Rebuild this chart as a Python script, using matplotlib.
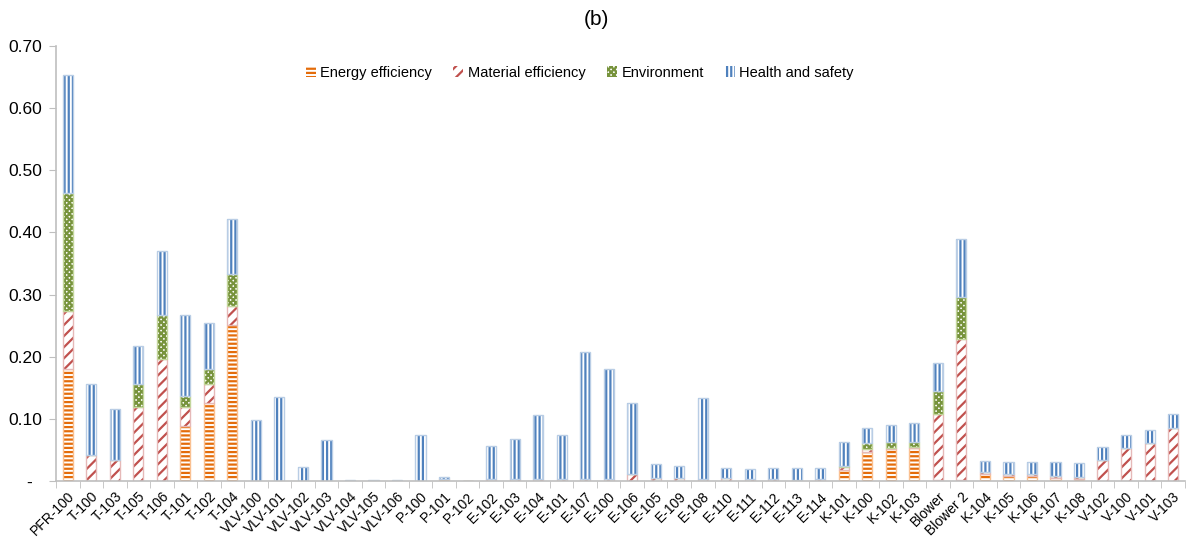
import matplotlib
matplotlib.use("Agg")
import matplotlib.pyplot as plt
import numpy as np

plt.rcParams['font.family'] = ['Liberation Sans', 'DejaVu Sans']
plt.rcParams['hatch.linewidth'] = 1.6

categories = ["PFR-100", "T-100", "T-103", "T-105", "T-106", "T-101", "T-102", "T-104",
              "VLV-100", "VLV-101", "VLV-102", "VLV-103", "VLV-104", "VLV-105", "VLV-106",
              "P-100", "P-101", "P-102",
              "E-102", "E-103", "E-104", "E-101", "E-107", "E-100", "E-106", "E-105", "E-109",
              "E-108", "E-110", "E-111", "E-112", "E-113", "E-114",
              "K-101", "K-100", "K-102", "K-103", "Blower", "Blower 2",
              "K-104", "K-105", "K-106", "K-107", "K-108",
              "V-102", "V-100", "V-101", "V-103"]

energy = [0.180, 0.000, 0.000, 0.000, 0.000, 0.089, 0.125, 0.251,
          0.000, 0.000, 0.000, 0.000, 0.000, 0.000, 0.000,
          0.000, 0.004, 0.000,
          0.000, 0.000, 0.000, 0.000, 0.000, 0.000, 0.000, 0.000, 0.000,
          0.000, 0.000, 0.000, 0.000, 0.000, 0.000,
          0.018, 0.047, 0.052, 0.053, 0.002, 0.002,
          0.011, 0.008, 0.008, 0.005, 0.004,
          0.000, 0.000, 0.000, 0.000]

material = [0.094, 0.042, 0.034, 0.119, 0.196, 0.031, 0.031, 0.030,
            0.000, 0.000, 0.000, 0.000, 0.000, 0.000, 0.000,
            0.000, 0.000, 0.000,
            0.003, 0.003, 0.003, 0.003, 0.003, 0.003, 0.012, 0.005, 0.005,
            0.003, 0.005, 0.003, 0.003, 0.002, 0.004,
            0.004, 0.004, 0.002, 0.002, 0.106, 0.226,
            0.003, 0.003, 0.003, 0.003, 0.002,
            0.034, 0.054, 0.061, 0.085]

environment = [0.190, 0.000, 0.000, 0.037, 0.072, 0.017, 0.024, 0.052,
               0.000, 0.000, 0.000, 0.000, 0.000, 0.000, 0.000,
               0.000, 0.000, 0.000,
               0.000, 0.000, 0.000, 0.000, 0.000, 0.000, 0.000, 0.000, 0.000,
               0.000, 0.000, 0.000, 0.000, 0.000, 0.000,
               0.002, 0.010, 0.009, 0.008, 0.037, 0.068,
               0.000, 0.000, 0.000, 0.000, 0.000,
               0.000, 0.000, 0.000, 0.000]

health = [0.189, 0.114, 0.082, 0.061, 0.102, 0.130, 0.074, 0.088,
          0.099, 0.135, 0.022, 0.066, 0.002, 0.002, 0.002,
          0.075, 0.002, 0.001,
          0.054, 0.065, 0.104, 0.071, 0.204, 0.177, 0.114, 0.022, 0.020,
          0.131, 0.016, 0.017, 0.018, 0.019, 0.017,
          0.039, 0.024, 0.028, 0.030, 0.045, 0.094,
          0.019, 0.019, 0.019, 0.022, 0.023,
          0.021, 0.021, 0.022, 0.023]

series_names = ["Energy efficiency", "Material efficiency", "Environment", "Health and safety"]
yticks = [0.0, 0.1, 0.2, 0.3, 0.4, 0.5, 0.6, 0.7]
ytick_labels = ["-  ", "0.10", "0.20", "0.30", "0.40", "0.50", "0.60", "0.70"]

fig = plt.figure(figsize=(11.92, 5.4), dpi=100)
ax = fig.add_axes([0.047, 0.109, 0.947, 0.806])

x = np.arange(len(categories))
w = 0.43
e = np.array(energy)
m = np.array(material)
env = np.array(environment)
h = np.array(health)

styles = [
    dict(hatch_color="#E46C0A", edge="#FAC090", hatch="----"),
    dict(hatch_color="#C0504D", edge="#E6B9B8", hatch="///"),
    dict(hatch_color="#77933C", edge="#C3D69B", hatch="xxxxxx"),
    dict(hatch_color="#4F81BD", edge="#B9CDE5", hatch="||||"),
]
bottoms = [np.zeros_like(e), e, e + m, e + m + env]
vals = [e, m, env, h]
handles = []
for v, b, st, name in zip(vals, bottoms, styles, series_names):
    bc = ax.bar(x, v, w, bottom=b, facecolor="white", edgecolor=st["hatch_color"],
                linewidth=0, hatch=st["hatch"], label=name)
    ax.bar(x, v, w, bottom=b, fill=False, edgecolor=st["edge"], linewidth=1.0)
    handles.append(bc)

ax.set_xlim(-0.5, len(categories) - 0.5)
ax.set_ylim(0, 0.70)
ax.set_yticks(yticks)
ax.set_yticklabels(ytick_labels, fontsize=12.5)
ax.set_xticks(x)
ax.set_xticklabels(categories, rotation=45, ha="right", rotation_mode="anchor", fontsize=10)
ax.set_xticks(np.arange(-0.5, len(categories)), minor=True)
ax.tick_params(axis="x", which="major", length=0, pad=6)
ax.tick_params(axis="x", which="minor", length=5, color="#BFBFBF", direction="out")
ax.tick_params(axis="y", length=5, color="#BFBFBF", direction="out", pad=5)
for s in ["top", "right"]:
    ax.spines[s].set_visible(False)
for s in ["left", "bottom"]:
    ax.spines[s].set_color("#BFBFBF")
    ax.spines[s].set_linewidth(1.2)

ax.legend(handles=handles, labels=series_names, loc="upper center",
          bbox_to_anchor=(0.464, 0.985), ncol=4, frameon=False,
          fontsize=10.5, handlelength=0.7, handleheight=0.7, handletextpad=0.3,
          columnspacing=1.45)
fig.text(0.5, 0.963, "(b)", ha="center", va="center", fontsize=15)

fig.savefig("out.png", dpi=100)
